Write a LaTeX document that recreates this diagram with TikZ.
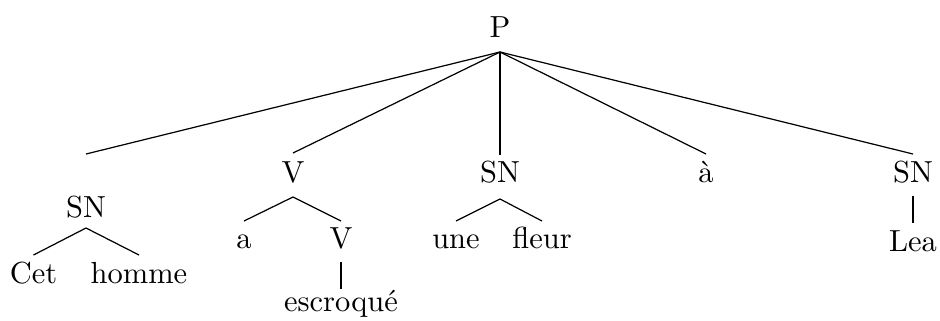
\documentclass[tikz,border=0pt]{standalone}
\usetikzlibrary{calc}
\begin{document}
\begin{tikzpicture}[x=0.328pt,y=-0.328pt,
  lbl/.style={anchor=base,inner sep=0pt,outer sep=0pt},
  edge/.style={draw=black,line width=0.4pt}]
\useasboundingbox (0,0) rectangle (940,320);
% nodes
\node[lbl] (P) at (500,37) {P};
\coordinate (c1) at (86,154);
\node[lbl] (V) at (293,182) {V};
\node[lbl] (SNm) at (500,182) {SN};
\node[lbl] (agr) at (706,182) {à};
\node[lbl] (SNr) at (913,182) {SN};
\node[lbl] (SNl) at (86,217) {SN};
\node[lbl] (Cet) at (33.5,283) {Cet};
\node[lbl] (homme) at (139,283) {homme};
\node[lbl] (a) at (244,248) {a};
\node[lbl] (V2) at (341,248) {V};
\node[lbl] (escr) at (341,311) {escroqué};
\node[lbl] (une) at (456,248) {une};
\node[lbl] (fleur) at (542,248) {fleur};
\node[lbl] (Lea) at (913,251) {Lea};
% connectors
\draw[edge] ($(P.base)+(0,15)$) -- (c1);
\draw[edge] ($(P.base)+(0,15)$) -- ($(V.base)+(0,-29)$);
\draw[edge] ($(P.base)+(0,15)$) -- ($(SNm.base)+(0,-27)$);
\draw[edge] ($(P.base)+(0,15)$) -- ($(agr.base)+(0,-28)$);
\draw[edge] ($(P.base)+(0,15)$) -- ($(SNr.base)+(0,-28)$);
\draw[edge] ($(SNl.base)+(0,11)$) -- ($(Cet.base)+(0,-28)$);
\draw[edge] ($(SNl.base)+(0,11)$) -- ($(homme.base)+(0,-28)$);
\draw[edge] ($(V.base)+(0,15)$) -- ($(a.base)+(0,-27)$);
\draw[edge] ($(V.base)+(0,15)$) -- ($(V2.base)+(0,-27)$);
\draw[edge] ($(V2.base)+(0,14)$) -- ($(escr.base)+(0,-22)$);
\draw[edge] ($(SNm.base)+(0,17)$) -- ($(une.base)+(0,-27)$);
\draw[edge] ($(SNm.base)+(0,17)$) -- ($(fleur.base)+(0,-27)$);
\draw[edge] ($(SNr.base)+(0,14)$) -- ($(Lea.base)+(0,-28)$);
\end{tikzpicture}
\end{document}
